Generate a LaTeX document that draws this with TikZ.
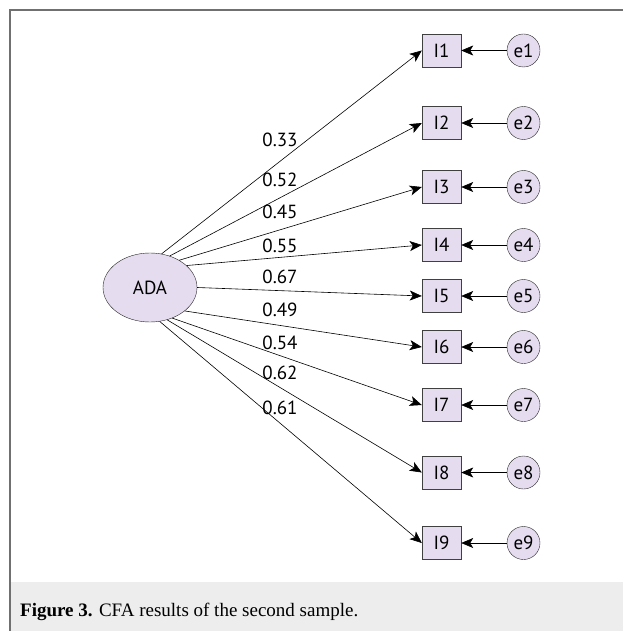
\documentclass[tikz,border=0pt]{standalone}
\usepackage{fontspec}
\setmainfont{Liberation Serif}
\newfontfamily\diagfont{PT Sans}
\usetikzlibrary{ arrows.meta,     % For the stealth arrow heads
                 shapes.geometric % For the latent ellipse
               }
\definecolor{lav}{HTML}{E6DCF0}
\definecolor{framegray}{HTML}{707070}
\definecolor{capgray}{HTML}{EDEDED}
\tikzstyle{latent} = [ellipse, draw=black!85, fill=lav, minimum width=94pt, minimum height=69pt, inner sep=0pt, font=\diagfont\fontsize{19}{19}\selectfont]
\tikzstyle{indicator} = [rectangle, draw=black!75, fill=lav, minimum width=39pt, minimum height=33pt, inner sep=0pt, font=\diagfont\fontsize{19}{19}\selectfont]
\tikzstyle{error} = [circle, draw=black!85, fill=lav, minimum size=33pt, inner sep=0pt, font=\diagfont\fontsize{19}{19}\selectfont]
\tikzstyle{loading} = [-{Stealth[length=12pt, width=10pt, inset=3pt]}, line width=0.6pt]
\tikzstyle{coef} = [inner sep=0pt, font=\diagfont\fontsize{19}{19}\selectfont]

\begin{document}
\begin{tikzpicture}[x=1pt, y=-1pt]
  \useasboundingbox (0,0) rectangle (623,631);
  % frame and caption band
  \fill[capgray] (11,582) rectangle (623,631);
  \draw[framegray, line width=2pt] (10,631) -- (10,10) -- (623,10);
  \node (caption) [anchor=west, inner sep=0pt, font=\fontsize{19}{19}\selectfont] at (20,612) {\textbf{Figure 3.} CFA results of the second sample.};

  \node (ada) [latent] at (150,287.5) {ADA};

  \node (i1) [indicator] at (441.5,50.5) {I1};
  \node (e1) [error] at (523.5,50.5) {e1};
  \draw[loading] (e1) -- (i1);
  \draw[loading] (ada.71) -- (i1.west);

  \node (i2) [indicator] at (441.5,123) {I2};
  \node (e2) [error] at (523.5,123) {e2};
  \draw[loading] (e2) -- (i2);
  \draw[loading] (ada.58) -- (i2.west);

  \node (i3) [indicator] at (441.5,187) {I3};
  \node (e3) [error] at (523.5,187) {e3};
  \draw[loading] (e3) -- (i3);
  \draw[loading] (ada.43) -- (i3.west);

  \node (i4) [indicator] at (441.5,245) {I4};
  \node (e4) [error] at (523.5,245) {e4};
  \draw[loading] (e4) -- (i4);
  \draw[loading] (ada.31) -- (i4.west);

  \node (i5) [indicator] at (441.5,296) {I5};
  \node (e5) [error] at (523.5,296) {e5};
  \draw[loading] (e5) -- (i5);
  \draw[loading] (ada.0) -- (i5.west);

  \node (i6) [indicator] at (441.5,347) {I6};
  \node (e6) [error] at (523.5,347) {e6};
  \draw[loading] (e6) -- (i6);
  \draw[loading] (ada.-34) -- (i6.west);

  \node (i7) [indicator] at (441.5,405) {I7};
  \node (e7) [error] at (523.5,405) {e7};
  \draw[loading] (e7) -- (i7);
  \draw[loading] (ada.-54) -- (i7.west);

  \node (i8) [indicator] at (441.5,472.5) {I8};
  \node (e8) [error] at (523.5,472.5) {e8};
  \draw[loading] (e8) -- (i8);
  \draw[loading] (ada.-62) -- (i8.west);

  \node (i9) [indicator] at (441.5,543) {I9};
  \node (e9) [error] at (523.5,543) {e9};
  \draw[loading] (e9) -- (i9);
  \draw[loading] (ada.-74) -- (i9.west);

  % loadings
  \node (c1) [coef] at (280,140) {0.33};
  \node (c2) [coef] at (280,180) {0.52};
  \node (c3) [coef] at (280,212) {0.45};
  \node (c4) [coef] at (280,246) {0.55};
  \node (c5) [coef] at (280,277) {0.67};
  \node (c6) [coef] at (280,310) {0.49};
  \node (c7) [coef] at (280,343) {0.54};
  \node (c8) [coef] at (280,373) {0.62};
  \node (c9) [coef] at (280,408) {0.61};
\end{tikzpicture}
\end{document}
